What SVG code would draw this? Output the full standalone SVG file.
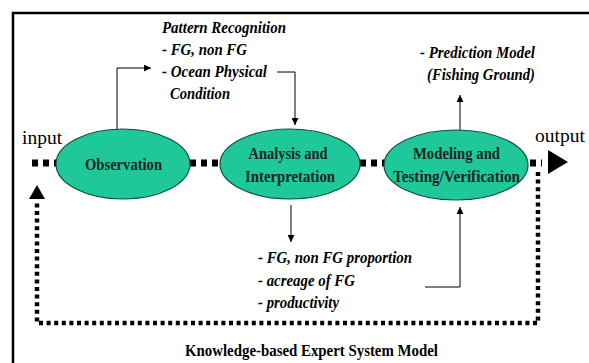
<svg xmlns="http://www.w3.org/2000/svg" width="589" height="363" viewBox="0 0 589 363">
<defs>
<style>
.node{fill:#1fc898;stroke:#0e5040;stroke-width:1.2}
.thin{fill:none;stroke:#000;stroke-width:1}
.flow{fill:none;stroke:#000;stroke-width:7;stroke-dasharray:6 5}
.fb{fill:none;stroke:#000;stroke-width:4.5;stroke-dasharray:4 3.6}
</style>
<marker id="ah" viewBox="0 0 10 10" refX="10" refY="5" markerWidth="7" markerHeight="7" markerUnits="userSpaceOnUse" orient="auto">
<path d="M0,0 L10,5 L0,10 z" fill="#000"/>
</marker>
</defs>
<rect width="589" height="363" fill="#fff"/>
<g id="frame">
<path d="M13,363 L13,13 L589,13" fill="none" stroke="#000" stroke-width="2.5"/>
</g>
<g id="connectors">
<path class="flow" d="M32,163 L57,163"/>
<path class="flow" d="M190,163 L221,163"/>
<path class="flow" d="M360,163 L385,163"/>
<path class="flow" d="M530,163 L542,163"/>
<path d="M548,150 L568,162 L548,174 z" fill="#000"/>
<path class="fb" d="M538,172 L538,323 L37,323 L37,200"/>
<path d="M29,199 L37,185 L45,199 z" fill="#000"/>
<path class="thin" d="M117,130 L117,68 L151,68" marker-end="url(#ah)"/>
<path class="thin" d="M277,72 L295,72 L295,125" marker-end="url(#ah)"/>
<path class="thin" d="M460,130 L460,95" marker-end="url(#ah)"/>
<path class="thin" d="M291,205 L291,242" marker-end="url(#ah)"/>
<path class="thin" d="M425,287 L460,287 L460,207" marker-end="url(#ah)"/>
</g>
<g font-family="Liberation Serif, serif" font-weight="bold" font-size="17" fill="#142424" text-anchor="middle" lengthAdjust="spacingAndGlyphs">
<g id="observation">
<ellipse class="node" cx="123" cy="164" rx="67" ry="35"/>
<text x="123.5" y="170" textLength="77" lengthAdjust="spacingAndGlyphs">Observation</text>
</g>
<g id="analysis">
<ellipse class="node" cx="290" cy="164" rx="70" ry="35"/>
<text x="288" y="159" textLength="79" lengthAdjust="spacingAndGlyphs">Analysis and</text>
<text x="290" y="182" textLength="90" lengthAdjust="spacingAndGlyphs">Interpretation</text>
</g>
<g id="modeling">
<ellipse class="node" cx="456" cy="165" rx="72" ry="35"/>
<text x="456.5" y="159" textLength="87" lengthAdjust="spacingAndGlyphs">Modeling and</text>
<text x="456.5" y="182" textLength="127" lengthAdjust="spacingAndGlyphs">Testing/Verification</text>
</g>
<text x="311.5" y="356" fill="#000" textLength="253" lengthAdjust="spacingAndGlyphs">Knowledge-based Expert System Model</text>
</g>
<g id="labels" font-family="Liberation Serif, serif" fill="#000">
<text x="22" y="144" font-size="19.5">input</text>
<text x="535" y="142" font-size="19.5">output</text>
<g font-weight="bold" font-style="italic" font-size="16.5">
<text x="162" y="33" textLength="124" lengthAdjust="spacingAndGlyphs">Pattern Recognition</text>
<text x="162" y="55" textLength="85" lengthAdjust="spacingAndGlyphs">- FG, non FG</text>
<text x="162" y="77" textLength="105" lengthAdjust="spacingAndGlyphs">- Ocean Physical</text>
<text x="170" y="99" textLength="60" lengthAdjust="spacingAndGlyphs">Condition</text>
<text x="420" y="58" textLength="115" lengthAdjust="spacingAndGlyphs">- Prediction Model</text>
<text x="427" y="80" textLength="108" lengthAdjust="spacingAndGlyphs">(Fishing Ground)</text>
<text x="258" y="263" textLength="154" lengthAdjust="spacingAndGlyphs">- FG, non FG proportion</text>
<text x="258" y="286" textLength="97" lengthAdjust="spacingAndGlyphs">- acreage of FG</text>
<text x="258" y="308" textLength="81" lengthAdjust="spacingAndGlyphs">- productivity</text>
</g>
</g>
</svg>
